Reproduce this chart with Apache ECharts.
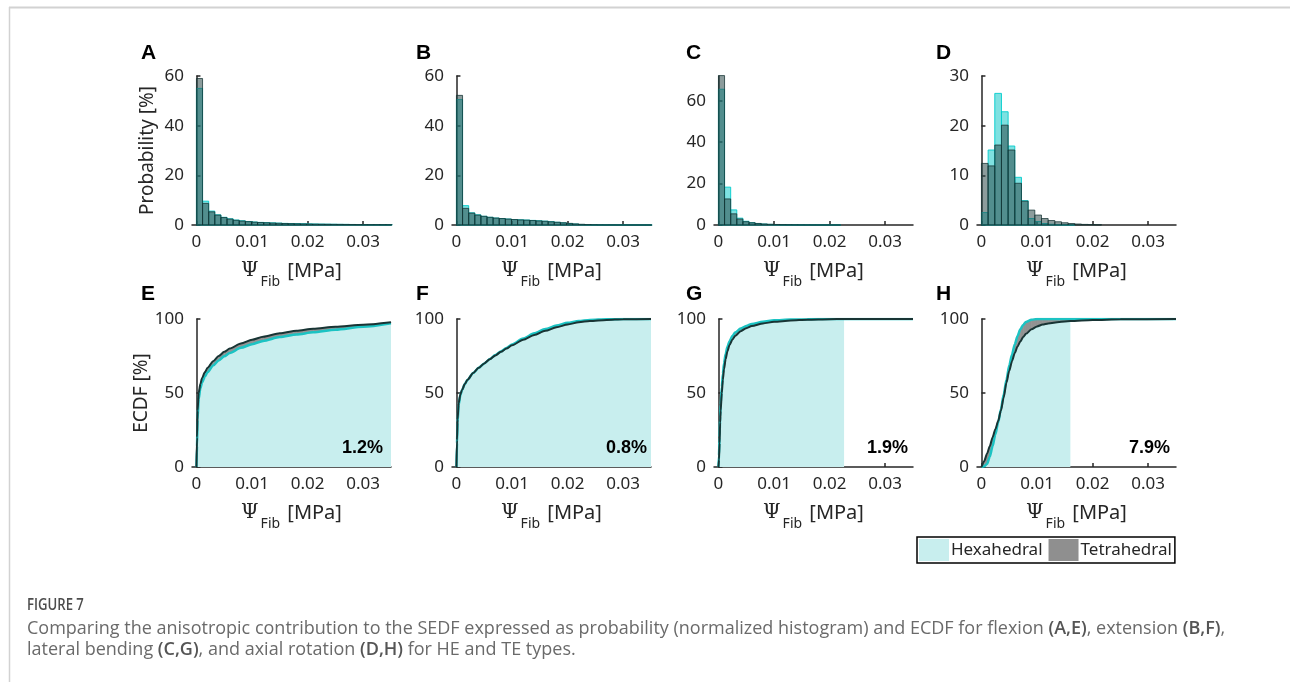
<!DOCTYPE html>
<html><head><meta charset="utf-8">
<script src="https://cdn.jsdelivr.net/npm/echarts@6/dist/echarts.min.js"></script>
<style>html,body{margin:0;padding:0;background:#fff}#c{width:1290px;height:682px}</style>
</head><body><div id="c"></div><script>
// ---------- tick labels ----------
const xTickValues = [0, 0.01, 0.02, 0.03];
const probTicksA = [0, 20, 40, 60];
const probTicksB = [0, 20, 40, 60];
const probTicksC = [0, 20, 40, 60];
const probTicksD = [0, 10, 20, 30];
const ecdfTicks = [0, 50, 100];
const probMax = [60, 60, 72, 30];

// ---------- histogram data (probability %, bins start at 0) ----------
const binWidthABC = 0.0011;
const binWidthD = 0.0012;
const histA_hex = [55, 9.6, 5.6, 4.1, 3.1, 2.5, 2.0, 1.7, 1.4, 1.2, 1.05, 0.95, 0.85, 0.75, 0.65, 0.6, 0.55, 0.5, 0.45, 0.4, 0.36, 0.33, 0.3, 0.27, 0.25, 0.22, 0.2, 0.19, 0.17, 0.15, 0.14, 0.13];
const histA_tet = [59, 8.7, 5.3, 4.0, 3.0, 2.4, 1.9, 1.6, 1.35, 1.15, 1.0, 0.9, 0.8, 0.7, 0.6, 0.55, 0.5, 0.45, 0.4, 0.36, 0.32, 0.29, 0.26, 0.24, 0.22, 0.2, 0.18, 0.16, 0.15, 0.14, 0.13, 0.12];
const histB_hex = [50.5, 7.8, 4.9, 4.1, 3.5, 3.1, 2.8, 2.6, 2.4, 2.2, 2.1, 2.0, 1.85, 1.7, 1.55, 1.35, 1.1, 0.85, 0.6, 0.38, 0.22, 0.12, 0.07, 0.04, 0.02, 0.01, 0.01, 0.005, 0, 0, 0, 0];
const histB_tet = [52.2, 6.7, 4.8, 4.0, 3.5, 3.1, 2.8, 2.6, 2.4, 2.2, 2.05, 1.95, 1.8, 1.65, 1.5, 1.3, 1.1, 0.9, 0.65, 0.45, 0.28, 0.16, 0.09, 0.05, 0.03, 0.02, 0.01, 0.01, 0, 0, 0, 0];
const histC_hex = [65.6, 18.3, 7.3, 3.3, 1.8, 1.1, 0.7, 0.45, 0.3, 0.2, 0.15, 0.1, 0.07, 0.05, 0.03, 0.02, 0.01, 0.01, 0.005, 0.005];
const histC_tet = [72.2, 12.6, 5.4, 2.9, 1.6, 1.1, 0.75, 0.5, 0.35, 0.25, 0.18, 0.12, 0.08, 0.05, 0.03, 0.02, 0.015, 0.01, 0.005, 0.005];
const histD_hex = [2.5, 15.1, 26.5, 22.8, 15.9, 9.6, 4.9, 1.3, 0.7, 0.3, 0.15, 0.08, 0.04, 0.02];
const histD_tet = [12.4, 11.9, 16.1, 20.1, 15.1, 8.4, 4.8, 3.0, 2.0, 1.3, 0.9, 0.65, 0.45, 0.3, 0.2, 0.12, 0.08, 0.05];

// ---------- ECDF data (%) ----------
const ecdfE_x   = [0, 0.0001, 0.0002, 0.0004, 0.0007, 0.001, 0.0015, 0.002, 0.003, 0.004, 0.005, 0.006, 0.008, 0.010, 0.012, 0.015, 0.018, 0.021, 0.025, 0.030, 0.035];
const ecdfE_tet = [0, 20, 38, 50, 56, 60, 64, 67, 71.5, 75, 77.8, 80, 83.5, 86, 88, 90.3, 92, 93.4, 94.8, 96.1, 97.8];
const ecdfE_hex = [0, 14, 32, 46, 53, 57, 61, 64, 68.5, 72, 74.8, 77, 80.5, 83, 85.2, 87.8, 89.5, 91, 92.8, 94.8, 97.2];
const ecdfF_x   = [0, 0.0001, 0.0002, 0.0004, 0.0007, 0.001, 0.0015, 0.002, 0.003, 0.004, 0.005, 0.006, 0.007, 0.008, 0.009, 0.010, 0.012, 0.014, 0.016, 0.018, 0.020, 0.022, 0.024, 0.027, 0.030, 0.035];
const ecdfF_tet = [0, 18, 32, 43, 49, 52, 56, 59, 63.5, 67, 70, 72.8, 75.4, 77.8, 80, 82.2, 86, 89.2, 92, 94.4, 96.3, 97.8, 98.7, 99.4, 99.8, 100];
const ecdfF_hex = [0, 16, 30, 42, 48.5, 52, 56, 59, 63.5, 67, 70, 72.9, 75.6, 78.1, 80.4, 82.7, 86.8, 90.3, 93.2, 95.6, 97.4, 98.7, 99.4, 99.8, 100, 100];
const ecdfG_x   = [0, 0.0001, 0.0002, 0.0003, 0.0004, 0.0006, 0.0008, 0.001, 0.0013, 0.0016, 0.002, 0.0025, 0.003, 0.004, 0.005, 0.006, 0.008, 0.010, 0.013, 0.016, 0.020, 0.0226, 0.035];
const ecdfG_tet = [0, 5, 16, 30, 38, 50, 59, 66, 73, 78, 82.5, 86, 88.5, 91.8, 93.8, 95.2, 97, 98.1, 99, 99.5, 99.85, 100, 100];
const ecdfG_hex = [0, 8, 20, 34, 42, 54, 63, 70, 76.5, 81, 85, 88.5, 90.8, 93.5, 95.3, 96.6, 98.2, 99.1, 99.6, 99.85, 100, 100, 100];
const ecdfH_x   = [0, 0.0005, 0.001, 0.0015, 0.002, 0.0025, 0.003, 0.0035, 0.004, 0.0045, 0.005, 0.0055, 0.006, 0.0065, 0.007, 0.0075, 0.008, 0.009, 0.010, 0.011, 0.012, 0.014, 0.016, 0.020, 0.025, 0.035];
const ecdfH_hex = [0, 0.5, 2, 7, 14, 22, 30, 39, 49, 59, 68.5, 76, 83, 88.5, 93, 96, 98, 99.5, 100, 100, 100, 100, 100, 100, 100, 100];
const ecdfH_tet = [0, 4, 9, 14, 20, 25.5, 31, 38, 47, 57, 65, 71.5, 77, 81.5, 84.8, 87.8, 90, 93, 95, 96.2, 97, 98, 98.6, 99.3, 99.8, 100];
const hexFillEnd = [0.035, 0.035, 0.0226, 0.016];
const diffLabels = ['1.2%', '0.8%', '1.9%', '7.9%'];
const panelLetters = ['A', 'B', 'C', 'D', 'E', 'F', 'G', 'H'];
const seriesNames = ['Hexahedral', 'Tetrahedral'];

// ---------- layout ----------
const FONT = 'Noto Sans';
const TXT = '#262626';
const gridLeft = [192, 452, 714, 977];
const gridW = 199;
const grids = [];
for (let r = 0; r < 2; r++) for (let c = 0; c < 4; c++) {
  grids.push(r === 0 ? {left: gridLeft[c], top: 76, width: gridW, height: 149}
                     : {left: gridLeft[c], top: 319, width: gridW, height: 148});
}

const xName = '{psi|Ψ}{sub|Fib}{t| [MPa]}';
const xNameStyle = {
  color: TXT,
  rich: {
    psi: {fontFamily: 'DejaVu Serif', fontSize: 20, color: TXT},
    sub: {fontFamily: FONT, fontSize: 14, color: TXT, padding: [22, 2, 0, 2]},
    t: {fontFamily: FONT, fontSize: 20, color: TXT}
  }
};
const fmtX = v => v === 0 ? '0' : v.toFixed(2);

const xAxes = [], yAxes = [];
const yTickSets = [probTicksA, probTicksB, probTicksC, probTicksD];
for (let i = 0; i < 8; i++) {
  xAxes.push({
    type: 'value', gridIndex: i, min: -0.0008, max: 0.035,
    axisLine: {show: true, onZero: false, lineStyle: {color: TXT, width: 1.5}},
    axisTick: {show: true, inside: true, length: 4, customValues: xTickValues, lineStyle: {color: TXT, width: 1.5}},
    axisLabel: {customValues: xTickValues, formatter: fmtX, fontSize: 17, color: TXT, margin: 9, fontFamily: FONT},
    splitLine: {show: false},
    name: xName, nameLocation: 'middle', nameGap: 28, nameTextStyle: xNameStyle
  });
  const top = i < 4;
  const ticks = top ? yTickSets[i] : ecdfTicks;
  const y = {
    type: 'value', gridIndex: i, min: 0, max: top ? probMax[i] : 100,
    axisLine: {show: true, lineStyle: {color: TXT, width: 1.5}},
    axisTick: {show: true, inside: true, length: 4, customValues: ticks, lineStyle: {color: TXT, width: 1.5}},
    axisLabel: {customValues: ticks, fontSize: 17, color: TXT, margin: 8, fontFamily: FONT},
    splitLine: {show: false}
  };
  if (i === 0) Object.assign(y, {name: 'Probability [%]', nameLocation: 'middle', nameGap: 35, nameTextStyle: {fontSize: 19, color: TXT, fontFamily: FONT}});
  if (i === 4) Object.assign(y, {name: 'ECDF [%]', nameLocation: 'middle', nameGap: 36, nameTextStyle: {fontSize: 19, color: TXT, fontFamily: FONT}});
  yAxes.push(y);
}

function histSeries(name, vals, bw, idx, fill, stroke, z) {
  const data = vals.map((v, k) => [k * bw, (k + 1) * bw, v]);
  return {
    type: 'custom', name, xAxisIndex: idx, yAxisIndex: idx, z,
    encode: {x: [0, 1], y: 2}, data,
    renderItem: (params, api) => {
      const p0 = api.coord([api.value(0), api.value(2)]);
      const p1 = api.coord([api.value(1), 0]);
      return {type: 'rect', shape: {x: p0[0], y: p0[1], width: p1[0] - p0[0], height: p1[1] - p0[1]},
              style: {fill, stroke, lineWidth: 1}};
    }
  };
}

const series = [];
const hexFill = 'rgba(0,195,195,0.5)', hexEdge = 'rgba(0,205,205,0.9)';
const tetFill = 'rgba(45,75,75,0.55)', tetEdge = 'rgba(20,50,50,0.75)';
const hists = [[histA_hex, histA_tet, binWidthABC], [histB_hex, histB_tet, binWidthABC], [histC_hex, histC_tet, binWidthABC], [histD_hex, histD_tet, binWidthD]];
hists.forEach((h, i) => {
  series.push(histSeries(seriesNames[0], h[0], h[2], i, hexFill, hexEdge, 2));
  series.push(histSeries(seriesNames[1], h[1], h[2], i, tetFill, tetEdge, 3));
});

const SM = 0.25;
const ecdfs = [[ecdfE_x, ecdfE_hex, ecdfE_tet], [ecdfF_x, ecdfF_hex, ecdfF_tet], [ecdfG_x, ecdfG_hex, ecdfG_tet], [ecdfH_x, ecdfH_hex, ecdfH_tet]];
ecdfs.forEach((e, j) => {
  const idx = 4 + j;
  const [xs, hx, tt] = e;
  const fillData = xs.map((x, k) => [x, hx[k]]).filter(p => p[0] <= hexFillEnd[j] + 1e-12);
  series.push({
    type: 'line', name: seriesNames[0], xAxisIndex: idx, yAxisIndex: idx, z: 1,
    data: fillData, showSymbol: false, smooth: SM, smoothMonotone: 'x', lineStyle: {width: 0, opacity: 0},
    areaStyle: {color: '#c8eeee', opacity: 1}, silent: true
  });
  series.push({
    type: 'custom', name: seriesNames[1], xAxisIndex: idx, yAxisIndex: idx, z: 2,
    encode: {x: 0, y: [1, 2]}, data: xs.map((x, k) => [x, hx[k], tt[k]]),
    renderItem: (params, api) => {
      const i = params.dataIndexInside;
      if (i === 0) return null;
      const a = api.coord([api.value(0, i - 1), api.value(1, i - 1)]);
      const b = api.coord([api.value(0, i), api.value(1, i)]);
      const c = api.coord([api.value(0, i), api.value(2, i)]);
      const d = api.coord([api.value(0, i - 1), api.value(2, i - 1)]);
      return {type: 'polygon', shape: {points: [a, b, c, d]}, style: {fill: '#929292', stroke: '#929292', lineWidth: 0.6}};
    }
  });
  series.push({
    type: 'line', name: seriesNames[0], xAxisIndex: idx, yAxisIndex: idx, z: 3,
    data: xs.map((x, k) => [x, hx[k]]), showSymbol: false, smooth: SM, smoothMonotone: 'x',
    lineStyle: {color: '#1cc3c3', width: 2.5}, silent: true
  });
  series.push({
    type: 'line', name: seriesNames[1], xAxisIndex: idx, yAxisIndex: idx, z: 4,
    data: xs.map((x, k) => [x, tt[k]]), showSymbol: false, smooth: SM, smoothMonotone: 'x',
    lineStyle: {color: '#183434', width: 2}, silent: true
  });
});

// ---------- text elements ----------
const graphic = [];
const letterPos = [[141, 43], [416, 43], [686, 43], [936, 43], [141, 284], [416, 284], [686, 284], [936, 284]];
panelLetters.forEach((L, i) => graphic.push({type: 'text', z: 100, x: letterPos[i][0], y: letterPos[i][1],
  style: {text: L, font: 'bold 21px "Liberation Sans"', fill: '#000'}}));
const pctX = [383, 647, 908, 1170];
diffLabels.forEach((t, j) => graphic.push({type: 'text', z: 100, x: pctX[j], y: 448,
  style: {text: t, font: 'bold 18px "Liberation Sans"', fill: '#000', textAlign: 'right', textVerticalAlign: 'middle'}}));
// frame lines
graphic.push({type: 'line', z: 100, shape: {x1: 9, y1: 7.5, x2: 1290, y2: 7.5}, style: {stroke: '#d2d2d2', lineWidth: 2}});
graphic.push({type: 'line', z: 100, shape: {x1: 9.5, y1: 7, x2: 9.5, y2: 682}, style: {stroke: '#d2d2d2', lineWidth: 1.5}});
// caption
const capRich = {b: {font: '600 18px "Open Sans"', fill: '#555'}, n: {font: '18px "Open Sans"', fill: '#6a6a6a'}};
graphic.push({type: 'text', z: 100, x: 27, y: 605, scaleX: 0.82, style: {text: 'FIGURE 7', font: '600 16px "Open Sans"', fill: '#4d4d4d', textVerticalAlign: 'middle'}});
graphic.push({type: 'text', z: 100, x: 27, y: 629, style: {text: '{n|Comparing the anisotropic contribution to the SEDF expressed as probability (normalized histogram) and ECDF for flexion }{b|(A,E)}{n|, extension }{b|(B,F)}{n|,}', rich: capRich, textVerticalAlign: 'middle'}});
graphic.push({type: 'text', z: 100, x: 27, y: 650, style: {text: '{n|lateral bending }{b|(C,G)}{n|, and axial rotation }{b|(D,H)}{n| for HE and TE types.}', rich: capRich, textVerticalAlign: 'middle'}});

const option = {
  animation: false,
  backgroundColor: '#fff',
  grid: grids, xAxis: xAxes, yAxis: yAxes, series, graphic,
  legend: {
    left: 917, top: 537, orient: 'horizontal', selectedMode: false,
    itemWidth: 30, itemHeight: 22, itemGap: 6, padding: [2, 3, 2, 2],
    borderColor: '#000', borderWidth: 1.5, borderRadius: 0,
    textStyle: {fontSize: 17, color: TXT, fontFamily: FONT, padding: [0, 0, 0, -3]},
    data: [{name: 'Hexahedral', icon: 'rect', itemStyle: {color: '#c8eeee'}},
           {name: 'Tetrahedral', icon: 'rect', itemStyle: {color: '#8f8f8f'}}]
  }
};
const chart = echarts.init(document.getElementById('c'), null, {renderer: 'canvas'});
chart.setOption(option);
</script></body></html>
